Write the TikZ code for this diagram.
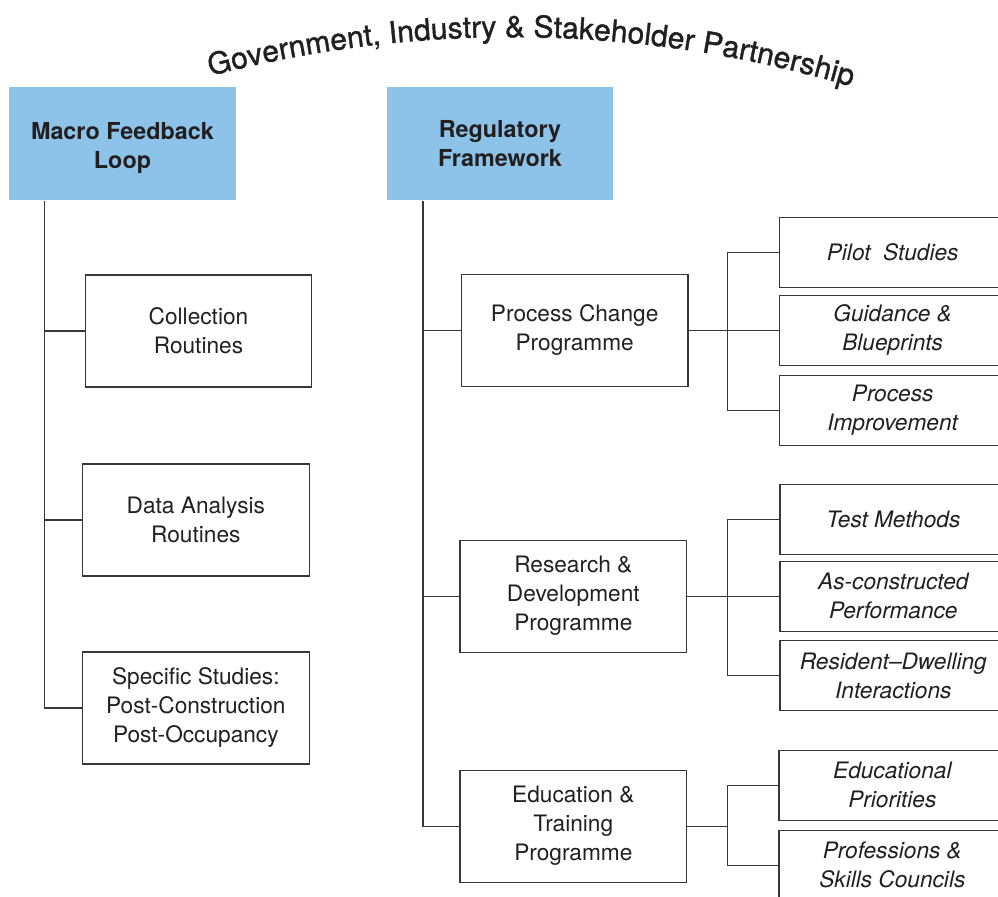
\documentclass[tikz,border=0pt]{standalone}
\usepackage{fontspec}
\setmainfont{TeX Gyre Heros}
\newfontfamily\titlefam[FakeBold=1.3]{TeX Gyre Heros}
\definecolor{headblue}{RGB}{141,195,232}
\definecolor{boxline}{RGB}{55,55,55}
\definecolor{inktext}{RGB}{35,31,32}
\newcommand\titlefont{\titlefam\fontsize{22.5pt}{26pt}\selectfont}

\begin{document}
\begin{tikzpicture}[x=0.75pt,y=0.75pt,line width=0.9pt,
    head node/.style={rectangle,fill=headblue,minimum width=170pt,minimum height=85pt,align=center,text=inktext,font=\fontsize{17.5pt}{21.75pt}\selectfont\bfseries},
    main node/.style={rectangle,draw=boxline,minimum width=170pt,minimum height=84pt,align=center,text=inktext,font=\fontsize{17pt}{21.75pt}\selectfont},
    sub node/.style={rectangle,draw=boxline,minimum width=170pt,minimum height=52.5pt,align=center,text=inktext,font=\fontsize{17pt}{21.75pt}\selectfont\itshape},
    arc letter/.style={inner sep=0,anchor=base,text=inktext,font=\titlefont}]
            \useasboundingbox (0,0) rectangle (998,896);

            % title, one letter at a time round a wide arc (letter widths in 1/1000 em)
            \coordinate (arcc) at (512,-330.5);
            \xdef\arcangle{104.68}
            \foreach \ch/\w in {G/778,o/556,v/500,e/556,r/333,n/556,m/833,e/556,n/556,t/278,{,}/278,{}/278,
                                I/278,n/556,d/556,u/556,s/500,t/278,r/333,y/500,{}/278,\&/667,{}/278,
                                S/667,t/278,a/556,k/500,e/556,h/556,o/556,l/222,d/556,e/556,r/333,{}/278,
                                P/667,a/556,r/333,t/278,n/556,e/556,r/333,s/500,h/556,i/222,p/556}{
                \pgfmathsetmacro\charangle{\arcangle-\w*0.0007225}
                \path (arcc) ++(\charangle:892.1pt) node[arc letter,rotate=\charangle-90]{\ch};
                \pgfmathsetmacro\arcangle{\arcangle-\w*0.001445}
                \xdef\arcangle{\arcangle}
            }

            \node [head node,text height=41pt](macro) at (122.5,752.5){Macro Feedback\\Loop};
            \node [head node](reg) at (500,752.5){Regulatory\\Framework};

            \node [main node,node distance=140.6pt](collection) [below of=macro,xshift=57pt]{Collection\\Routines};
            \node [main node,node distance=141.75pt](data) [below of=collection,xshift=-2pt]{Data Analysis\\Routines};
            \node [main node,node distance=141pt](specific) [below of=data]{Specific Studies:\\Post-Construction\\Post-Occupancy};

            \node [main node,node distance=140pt](process) [below of=reg,xshift=56pt]{Process Change\\Programme};
            \node [main node,node distance=199.5pt](rnd) [below of=process,xshift=-1pt]{Research \&\\Development\\Programme};
            \node [main node,node distance=172.5pt](education) [below of=rnd]{Education \&\\Training\\Programme};

            \node [sub node,node distance=238.5pt](guidance) [right of=process]{Guidance \&\\Blueprints};
            \node [sub node,node distance=58.5pt](pilot) [above of=guidance]{Pilot\ \ Studies};
            \node [sub node,node distance=60pt](improvement) [below of=guidance]{Process\\Improvement};

            \node [sub node,node distance=240pt](asbuilt) [right of=rnd]{As-constructed\\Performance};
            \node [sub node,node distance=57.4pt](testmeth) [above of=asbuilt]{Test Methods};
            \node [sub node,node distance=59.6pt](resident) [below of=asbuilt]{Resident–Dwelling\\Interactions};

            \node [sub node,node distance=239.25pt](educprio) [right of=education,yshift=30.75pt]{Educational\\Priorities};
            \node [sub node,node distance=60pt](skills) [below of=educprio]{Professions \&\\Skills Councils};

            % trunks
            \draw[boxline] ([xshift=27pt]macro.south west) |- (collection.west);
            \draw[boxline] ([xshift=27pt]macro.south west) |- (data.west);
            \draw[boxline] ([xshift=27pt]macro.south west) |- (specific.west);

            \draw[boxline] ([xshift=27.75pt]reg.south west) |- (process.west);
            \draw[boxline] ([xshift=27.75pt]reg.south west) |- (rnd.west);
            \draw[boxline] ([xshift=27.75pt]reg.south west) |- (education.west);

            % branches
            \draw[boxline] (process.east) -- +(29pt,0) |- (pilot.west);
            \draw[boxline] (process.east) -- +(29pt,0) |- (guidance.west);
            \draw[boxline] (process.east) -- +(29pt,0) |- (improvement.west);

            \draw[boxline] (rnd.east) -- +(30pt,0) |- (testmeth.west);
            \draw[boxline] (rnd.east) -- +(30pt,0) |- (asbuilt.west);
            \draw[boxline] (rnd.east) -- +(30pt,0) |- (resident.west);

            \draw[boxline] (education.east) -- +(30pt,0) |- (educprio.west);
            \draw[boxline] (education.east) -- +(30pt,0) |- (skills.west);
        \end{tikzpicture}
\end{document}
